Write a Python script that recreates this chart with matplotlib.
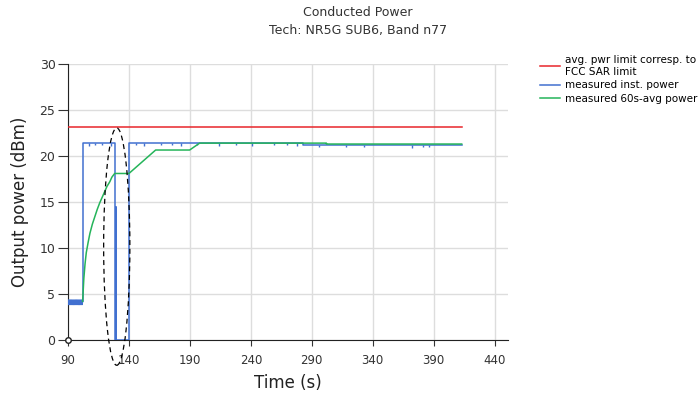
import matplotlib
matplotlib.use("Agg")
import matplotlib.pyplot as plt
from matplotlib.patches import Ellipse

# --- data ---
limit_t = [90.0, 413.0]
limit_p = [23.1, 23.1]

# low-power band before the jump (rapid toggling between two levels)
band_t = [90.0, 90.5, 91.0, 91.5, 92.0, 92.5, 93.0, 93.5, 94.0, 94.5, 95.0, 95.5,
          96.0, 96.5, 97.0, 97.5, 98.0, 98.5, 99.0, 99.5, 100.0, 100.5, 101.0,
          101.5, 102.0]
band_p = [4.35, 3.85, 4.35, 3.85, 4.35, 3.85, 4.35, 3.85, 4.35, 3.85, 4.35, 3.85,
          4.35, 3.85, 4.35, 3.85, 4.35, 3.85, 4.35, 3.85, 4.35, 3.85, 4.35,
          3.85, 4.2]

inst_t = [102.0, 102.0, 128.3, 128.3, 129.1, 129.1, 129.4, 129.4, 140.0, 140.0,
          282.6, 282.6, 413.0]
inst_p = [4.2, 21.4, 21.4, 0.0, 0.0, 14.5, 14.5, 0.0, 0.0, 21.4,
          21.4, 21.2, 21.2]

# short dips in the instantaneous power
dip_t = [107, 112, 118, 125, 146, 152, 166, 175, 183, 196, 214, 228, 241,
         259, 270, 278, 296, 318, 333, 372, 381, 386]
dip_top = [21.4, 21.4, 21.4, 21.4, 21.4, 21.4, 21.4, 21.4, 21.4, 21.4, 21.4,
           21.4, 21.4, 21.4, 21.4, 21.4, 21.2, 21.2, 21.2, 21.2, 21.2, 21.2]
dip_low = [21.1, 21.2, 21.2, 21.1, 21.2, 21.1, 21.2, 21.2, 21.1, 21.2, 21.1,
           21.2, 21.1, 21.2, 21.2, 21.1, 21.0, 21.0, 21.0, 20.9, 21.0, 21.0]

avg_t = [102.0, 103.0, 104.0, 105.0, 106.5, 108.0, 110.0, 112.0, 114.0, 116.0,
         118.0, 120.0, 122.0, 124.3, 126.0, 128.3, 140.0, 161.9, 189.8, 198.0,
         302.0, 302.0, 413.0]
avg_p = [4.2, 6.7, 8.3, 9.5, 10.6, 11.6, 12.6, 13.4, 14.2, 14.9,
         15.5, 16.1, 16.7, 17.2, 17.7, 18.1, 18.1, 20.65, 20.65, 21.4,
         21.4, 21.3, 21.3]

x_ticks = [90, 140, 190, 240, 290, 340, 390, 440]
y_ticks = [0, 5, 10, 15, 20, 25, 30]

RED = "#e8262b"
BLUE = "#4170d0"
GREEN = "#25b45a"

fig = plt.figure(figsize=(6.99, 3.98), dpi=100)
ax = fig.add_axes([68 / 699, 1 - 340 / 398, 440 / 699, 276 / 398])

ax.plot(limit_t, limit_p, color=RED, lw=1.1, label="avg. pwr limit corresp. to\nFCC SAR limit", zorder=3)
ax.plot(band_t, band_p, color=BLUE, lw=1.0, zorder=3)
ax.plot(inst_t, inst_p, color=BLUE, lw=1.1, label="measured inst. power", zorder=3)
ax.vlines(dip_t, dip_low, dip_top, color=BLUE, lw=1.0, zorder=3)
ax.plot(avg_t, avg_p, color=GREEN, lw=1.1, label="measured 60s-avg power", zorder=4)

# dashed ellipse highlighting the power drop
ax.add_patch(Ellipse((130, 10.15), 21.5, 25.8, fill=False, ec="black",
                     lw=0.9, ls=(0, (4, 3)), clip_on=False, zorder=5))
ax.plot([90], [0], "o", mfc="white", mec="#222222", ms=4, mew=1,
        clip_on=False, zorder=6)

ax.set_xlim(90, 451)
ax.set_ylim(0, 30)
ax.set_xticks(x_ticks)
ax.set_yticks(y_ticks)
ax.grid(True, color="#dddddd", lw=1)
ax.set_axisbelow(True)
for side in ("top", "right"):
    ax.spines[side].set_visible(False)
for side in ("left", "bottom"):
    ax.spines[side].set_color("#222222")
ax.tick_params(axis="x", length=4, labelsize=8.5, colors="#333333", pad=6)
ax.tick_params(axis="y", length=7, labelsize=9, colors="#333333", pad=2)

ax.set_xlabel("Time (s)", fontsize=12, color="#222222")
ax.set_ylabel("Output power (dBm)", fontsize=12, color="#222222")
ax.xaxis.set_label_coords(0.5, -0.125)
ax.yaxis.set_label_coords(-0.088, 0.5)

fig.text(358 / 699, 1 - 6 / 398, "Conducted Power\nTech: NR5G SUB6, Band n77",
         ha="center", va="top", fontsize=9, color="#333333", linespacing=1.5)

ax.legend(loc="upper left", bbox_to_anchor=(540 / 699, 1 - 55 / 398),
          bbox_transform=fig.transFigure, frameon=False, fontsize=7.5,
          handlelength=1.9, handletextpad=0.5, labelspacing=0.35,
          borderaxespad=0, borderpad=0)

fig.savefig("out.png", dpi=100)
